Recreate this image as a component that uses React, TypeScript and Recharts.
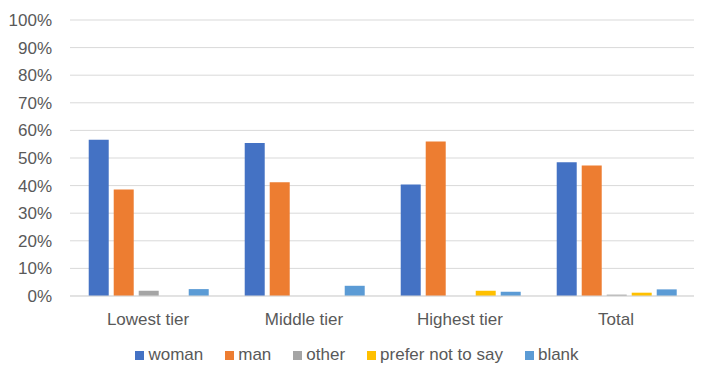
import { Bar, BarChart, CartesianGrid, Legend, XAxis, YAxis } from "recharts";

const tiers = ["Lowest tier", "Middle tier", "Highest tier", "Total"];
const woman = [56.6, 55.4, 40.4, 48.5];
const man = [38.6, 41.2, 56.0, 47.3];
const other = [1.9, 0, 0, 0.5];
const preferNot = [0, 0, 1.9, 1.2];
const blank = [2.5, 3.7, 1.5, 2.4];
const yTicks = [0, 10, 20, 30, 40, 50, 60, 70, 80, 90, 100];

const series = [
    { key: "woman", color: "#4472C4" },
    { key: "man", color: "#ED7D31" },
    { key: "other", color: "#A5A5A5" },
    { key: "prefer not to say", color: "#FFC000" },
    { key: "blank", color: "#5B9BD5" },
];

const data = tiers.map((name, i) => ({
    name,
    woman: woman[i],
    man: man[i],
    other: other[i],
    "prefer not to say": preferNot[i],
    blank: blank[i],
}));

const font = "'Liberation Sans', Arial, sans-serif";

function LegendBox() {
    return (
        <div style={{ display: "flex", justifyContent: "center", gap: 22, fontFamily: font, fontSize: 17, color: "#595959", paddingLeft: 20, paddingTop: 9 }}>
            {series.map((s) => (
                <div key={s.key} style={{ display: "flex", alignItems: "center" }}>
                    <span style={{ width: 9, height: 9, background: s.color, marginRight: 4, display: "inline-block" }} />
                    <span>{s.key}</span>
                </div>
            ))}
        </div>
    );
}

export default function App() {
    return (
        <div style={{ position: "absolute", left: 0, top: 0, width: 702, height: 371, background: "#fff" }}>
            <BarChart
                width={702}
                height={371}
                data={data}
                margin={{ top: 20, right: 8, left: 0, bottom: 0 }}
                barCategoryGap="12%"
                barGap={5}
            >
                <CartesianGrid vertical={false} stroke="#D9D9D9" />
                <XAxis
                    dataKey="name"
                    height={40}
                    tickSize={0}
                    tickMargin={17}
                    stroke="#D9D9D9"
                    tick={{ fill: "#595959", fontSize: 17, fontFamily: font }}
                />
                <YAxis
                    width={70}
                    domain={[0, 100]}
                    ticks={yTicks}
                    tickFormatter={(v) => `${v}%`}
                    axisLine={false}
                    tickSize={0}
                    tickMargin={18}
                    tick={{ fill: "#595959", fontSize: 17, fontFamily: font }}
                />
                <Legend verticalAlign="bottom" height={35} content={() => <LegendBox />} />
                {series.map((s) => (
                    <Bar key={s.key} dataKey={s.key} fill={s.color} isAnimationActive={false} />
                ))}
            </BarChart>
        </div>
    );
}
